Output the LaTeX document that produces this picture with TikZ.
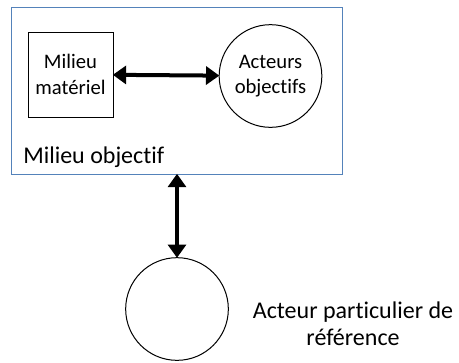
\documentclass[tikz,border=0pt]{standalone}
\usepackage{fontspec}
\setmainfont[Ligatures=NoCommon]{Carlito}
\usepackage{xcolor}
\usetikzlibrary{arrows.meta,positioning}
\definecolor{boxblue}{RGB}{84,130,186}

\begin{document}
\begin{tikzpicture}[x=0.75pt,y=-0.75pt]
    \tikzstyle{inner}=[font=\fontsize{15.5}{19}\selectfont,align=center,inner sep=0pt,line width=0.75pt]
    \tikzstyle{outer}=[font=\fontsize{18}{20}\selectfont,align=center,inner sep=0pt]
    \tikzstyle{link}=[line width=3pt,{Triangle[length=10pt,width=13.5pt]}-{Triangle[length=10pt,width=13.5pt]},shorten <=-0.5pt,shorten >=-0.5pt]

    \useasboundingbox (0,0) rectangle (459,362);

    % milieu objectif
    \node[draw=boxblue,line width=0.75pt,minimum width=248.25pt,minimum height=125.25pt,inner sep=0pt] (milieuobj) at (176.5,90.5) {};
    \node[outer,anchor=base west] (labelobj) at (23,163) {Milieu objectif};

    \node[inner,draw,minimum size=63.75pt] (materiel) at (70.5,74.5) {Milieu\\matériel};
    \node[inner,draw,circle,minimum size=77pt] (acteursobj) at (270.5,76) {Acteurs\\objectifs};

    % acteur de reference
    \node[draw,circle,line width=0.75pt,minimum size=77pt] (acteurref) at (177,309) {};
    \node[outer] (labelref) at (353,324) {Acteur particulier de\\référence};

    \draw [link] (materiel) -- (acteursobj);
    \draw [link] (milieuobj.south -| acteurref) -- (acteurref);

\end{tikzpicture}
\end{document}
